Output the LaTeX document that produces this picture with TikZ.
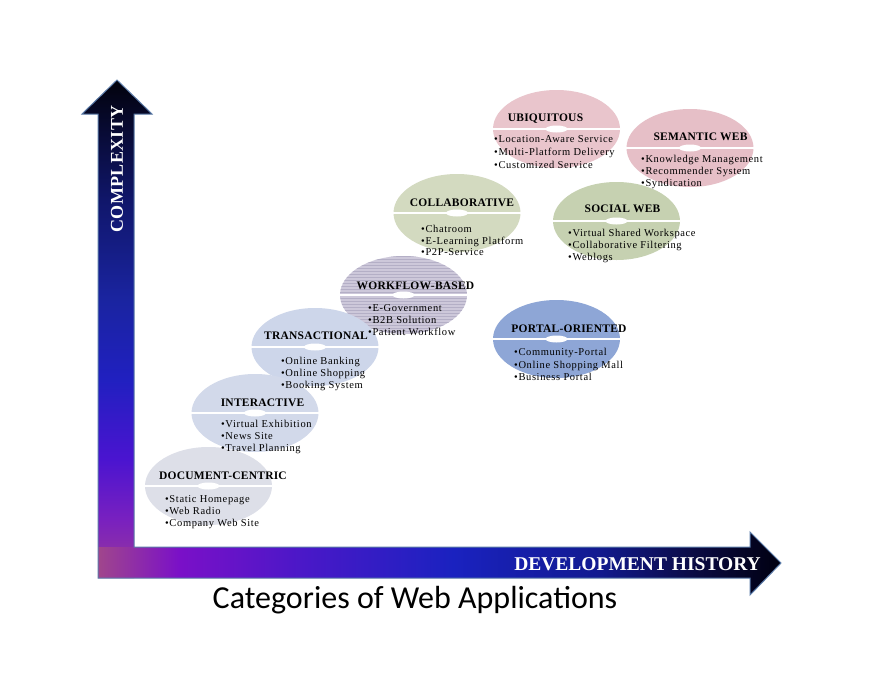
\documentclass[tikz,border=0pt]{standalone}
\usepackage{fontspec}
\setmainfont{Liberation Serif}
\newfontfamily\bulfont[LetterSpace=6]{Liberation Serif}
\newfontfamily\hdfont[LetterSpace=2]{Liberation Serif}
\newfontfamily\titlefont{Carlito}
\usetikzlibrary{shapes.geometric,patterns}

\definecolor{hc0}{HTML}{A0468C}
\definecolor{hc1}{HTML}{7A10C8}
\definecolor{hc2}{HTML}{4A18C8}
\definecolor{hc3}{HTML}{1A22C0}
\definecolor{hc4}{HTML}{121A90}
\definecolor{hc5}{HTML}{0A0A40}
\definecolor{hc6}{HTML}{000010}
\definecolor{vc0}{HTML}{9A3A98}
\definecolor{vc1}{HTML}{7820C0}
\definecolor{vc2}{HTML}{4A14D0}
\definecolor{vc3}{HTML}{2020C0}
\definecolor{vc4}{HTML}{1A24A0}
\definecolor{vc5}{HTML}{10166A}
\definecolor{vc6}{HTML}{02020C}
\definecolor{axisedge}{HTML}{5A7AA8}
\definecolor{cdoc}{HTML}{DDDFE8}
\definecolor{cint}{HTML}{D2D9EA}
\definecolor{ctra}{HTML}{CDD6EA}
\definecolor{cwor}{HTML}{CDC8DA}
\definecolor{cwors}{HTML}{B4AFC6}
\definecolor{ccol}{HTML}{D3DAC0}
\definecolor{cubi}{HTML}{E9C5CC}
\definecolor{csem}{HTML}{E6BFC7}
\definecolor{csoc}{HTML}{C6D1B1}
\definecolor{cpor}{HTML}{8EA6D6}

\pgfdeclarehorizontalshading{hshadeaxis}{100bp}{color(0bp)=(hc0); color(25bp)=(hc0); color(31bp)=(hc1); color(40bp)=(hc2); color(51bp)=(hc3); color(61.5bp)=(hc4); color(69bp)=(hc5); color(75bp)=(hc6); color(100bp)=(hc6)}
\pgfdeclareverticalshading{vshadeaxis}{100bp}{color(0bp)=(vc0); color(25bp)=(vc0); color(31bp)=(vc1); color(37bp)=(vc2); color(45bp)=(vc3); color(53bp)=(vc4); color(63bp)=(vc5); color(75bp)=(vc6); color(100bp)=(vc6)}

\tikzset{
  discnode/.style={ellipse, minimum width=127pt, minimum height=78pt, inner sep=0pt, draw=none},
  discline/.style={white, line width=2.2pt},
  hdtext/.style={font=\hdfont\bfseries\fontsize{11.5}{12}\selectfont, inner sep=0pt, anchor=base},
  bultext/.style={font=\bulfont\fontsize{10.5}{12}\selectfont, inner sep=0pt, anchor=base west},
  axisline/.style={draw=axisedge, line width=1pt, line join=miter},
}

% #1 name, #2 x, #3 y, #4 fill options
\newcommand{\mydisc}[4]{%
  \node[discnode, #4] (#1) at (#2,#3) {};
  \draw[discline] (#1.west) -- (#1.east);
  \fill[white] (#1.center) ellipse [x radius=11, y radius=3.5];
}
% #1 name, #2 x, #3 y of first line, #4 gap, #5 #6 #7 lines
\newcommand{\mybul}[7]{%
  \node[bultext] (#1a) at (#2,#3+3.5) {•#5};
  \node[bultext] (#1b) at (#2,#3+3.5+#4) {•#6};
  \node[bultext] (#1c) at (#2,#3+3.5+2*#4) {•#7};
}

\begin{document}
\begin{tikzpicture}[x=1pt,y=-1pt]
\useasboundingbox (0,0) rectangle (880,680);
\fill[white] (0,0) rectangle (880,680);

% axes
\shade[shading=vshadeaxis] (98,578) -- (98,114) -- (82,114) -- (117,80) -- (152,114) -- (134,114) -- (134,578) -- cycle;
\shade[shading=hshadeaxis] (98,547) -- (750,547) -- (750,532) -- (781,563) -- (750,595) -- (750,578) -- (98,578) -- cycle;
\draw[axisline] (98,578) -- (98,114) -- (82,114) -- (117,80) -- (152,114) -- (134,114) -- (134,547) -- (750,547) -- (750,532) -- (781,563) -- (750,595) -- (750,578) -- cycle;

\node[rotate=90, text=white, inner sep=0pt, font=\hdfont\bfseries\fontsize{18}{18}\selectfont] (complexity) at (117,169) {COMPLEXITY};
\node[text=white, inner sep=0pt, anchor=east, font=\bfseries\fontsize{19.5}{19.5}\selectfont] (devhist) at (761,564) {DEVELOPMENT HISTORY};

% discs
\mydisc{ubi}{556.5}{129}{fill=cubi}
\mydisc{sem}{690}{148}{fill=csem}
\mydisc{soc}{616.5}{221}{fill=csoc}
\mydisc{col}{457}{213}{fill=ccol}
\mydisc{wor}{403.5}{295}{fill=cwor, postaction={pattern=horizontal lines, pattern color=cwors}}
\mydisc{por}{556.5}{339}{fill=cpor}
\mydisc{tra}{315}{347}{fill=ctra}
\mydisc{int}{255}{413}{fill=cint}
\mydisc{doc}{208.5}{486}{fill=cdoc}

% headers
\node[hdtext] (hdoc) at (223,479) {DOCUMENT-CENTRIC};
\node[hdtext] (hint) at (262.5,406) {INTERACTIVE};
\node[hdtext] (htra) at (316,339) {TRANSACTIONAL};
\node[hdtext] (hwor) at (415.5,289) {WORKFLOW-BASED};
\node[hdtext] (hcol) at (462,206) {COLLABORATIVE};
\node[hdtext] (hubi) at (545.5,121) {UBIQUITOUS};
\node[hdtext] (hsem) at (700.5,140) {SEMANTIC WEB};
\node[hdtext] (hsoc) at (622.5,212) {SOCIAL WEB};
\node[hdtext] (hpor) at (569,332) {PORTAL-ORIENTED};

% bullets
\mybul{bdoc}{165}{499}{12}{Static Homepage}{Web Radio}{Company Web Site}
\mybul{bint}{221}{424}{12}{Virtual Exhibition}{News Site}{Travel Planning}
\mybul{btra}{281}{361}{12}{Online Banking}{Online Shopping}{Booking System}
\mybul{bwor}{368}{308}{12}{E-Government}{B2B Solution}{Patient Workflow}
\mybul{bcol}{421}{229}{11.5}{Chatroom}{E-Learning Platform}{P2P-Service}
\mybul{bubi}{494}{139}{13}{Location-Aware Service}{Multi-Platform Delivery}{Customized Service}
\mybul{bsem}{641}{159}{12}{Knowledge Management}{Recommender System}{Syndication}
\mybul{bsoc}{568}{233}{12}{Virtual Shared Workspace}{Collaborative Filtering}{Weblogs}
\mybul{bpor}{514}{352}{12.5}{Community-Portal}{Online Shopping Mall}{Business Portal}

% title
\node[inner sep=0pt, font=\titlefont\fontsize{32}{32}\selectfont] (title) at (415,600) {Categories of Web Applications};
\end{tikzpicture}
\end{document}
